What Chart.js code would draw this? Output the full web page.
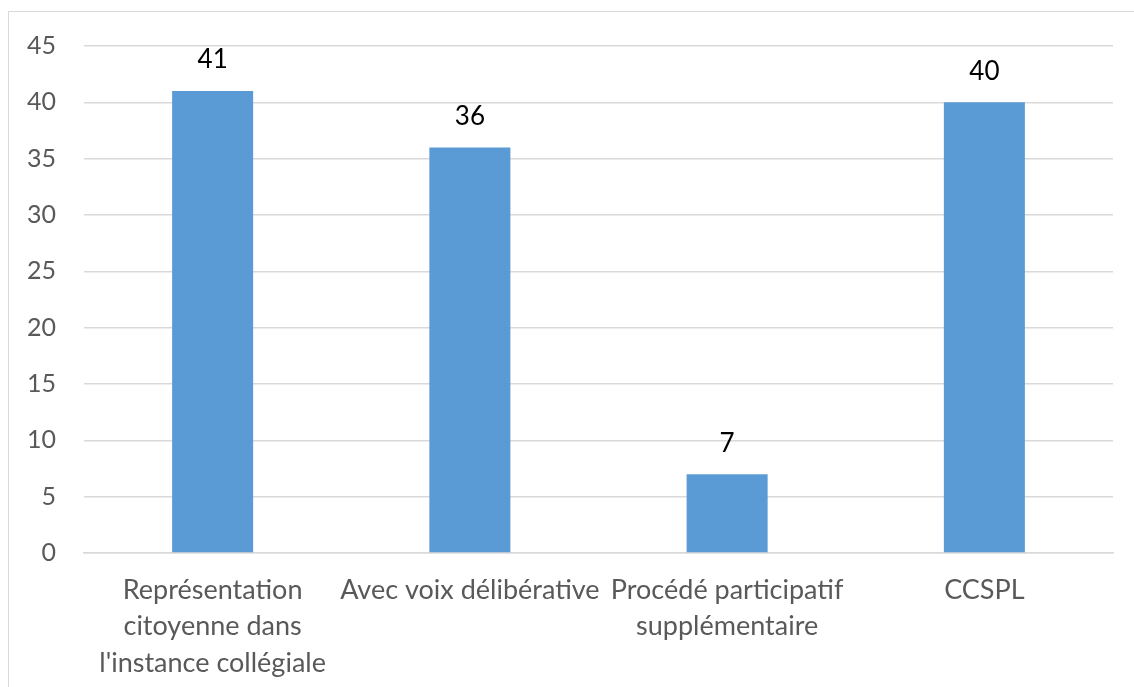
<!DOCTYPE html>
<html>
<head>
<meta charset="utf-8">
<script src="https://cdn.jsdelivr.net/npm/chart.js@4/dist/chart.umd.min.js"></script>
<style>
  html, body { margin: 0; padding: 0; background: #fff; }
  #wrap { position: relative; width: 1134px; height: 687px; overflow: hidden; }
  #frame { position: absolute; left: 8px; top: 11px; width: 1200px; height: 800px; border: 1.5px solid #d9d9d9; box-sizing: border-box; }
  canvas { position: absolute; left: 0; top: 0; }
</style>
</head>
<body>
<div id="wrap">
  <div id="frame"></div>
  <canvas id="chart" width="1134" height="687"></canvas>
</div>
<script>
// données
const categories = [
    ["Représentation", "citoyenne dans", "l'instance collégiale"],
    "Avec voix délibérative",
    ["Procédé participatif", "supplémentaire"],
    "CCSPL",
];
const valeurs = [41, 36, 7, 40];
const yMin = 0;
const yMax = 45;
const yStep = 5;

const police = "Lato, 'Open Sans', sans-serif";

// étiquettes au-dessus des barres
const etiquettes = {
    id: "etiquettes",
    afterDatasetsDraw(chart) {
        const ctx = chart.ctx;
        const meta = chart.getDatasetMeta(0);
        ctx.save();
        ctx.font = "26px " + police;
        ctx.fillStyle = "#000";
        ctx.textAlign = "center";
        ctx.textBaseline = "middle";
        meta.data.forEach((bar, i) => {
            ctx.fillText(String(valeurs[i]), bar.x, bar.y - 31);
        });
        ctx.restore();
    },
};

const ctx = document.getElementById("chart").getContext("2d");
new Chart(ctx, {
    type: "bar",
    data: {
        labels: categories,
        datasets: [{
            data: valeurs,
            backgroundColor: "#5b9bd5",
            borderWidth: 0,
            categoryPercentage: 1,
            barPercentage: 0.315,
        }],
    },
    options: {
        responsive: false,
        animation: false,
        layout: { padding: { left: 0, top: 46, right: 21, bottom: 0 } },
        plugins: {
            legend: { display: false },
            tooltip: { enabled: false },
        },
        scales: {
            y: {
                min: yMin,
                max: yMax,
                ticks: {
                    stepSize: yStep,
                    color: "#595959",
                    font: { family: police, size: 25 },
                    padding: 28,
                },
                grid: { color: "#d9d9d9", lineWidth: 1.5, drawTicks: false },
                border: { display: false },
                afterFit(scale) { scale.width = 84; },
            },
            x: {
                ticks: {
                    color: "#595959",
                    font: { family: police, size: 27, lineHeight: 1.35 },
                    padding: 19,
                    maxRotation: 0,
                    autoSkip: false,
                },
                grid: { display: false, drawTicks: false },
                border: { color: "#d9d9d9", width: 1.5 },
                afterFit(scale) { scale.height = 134; },
            },
        },
    },
    plugins: [etiquettes],
});
</script>
</body>
</html>
